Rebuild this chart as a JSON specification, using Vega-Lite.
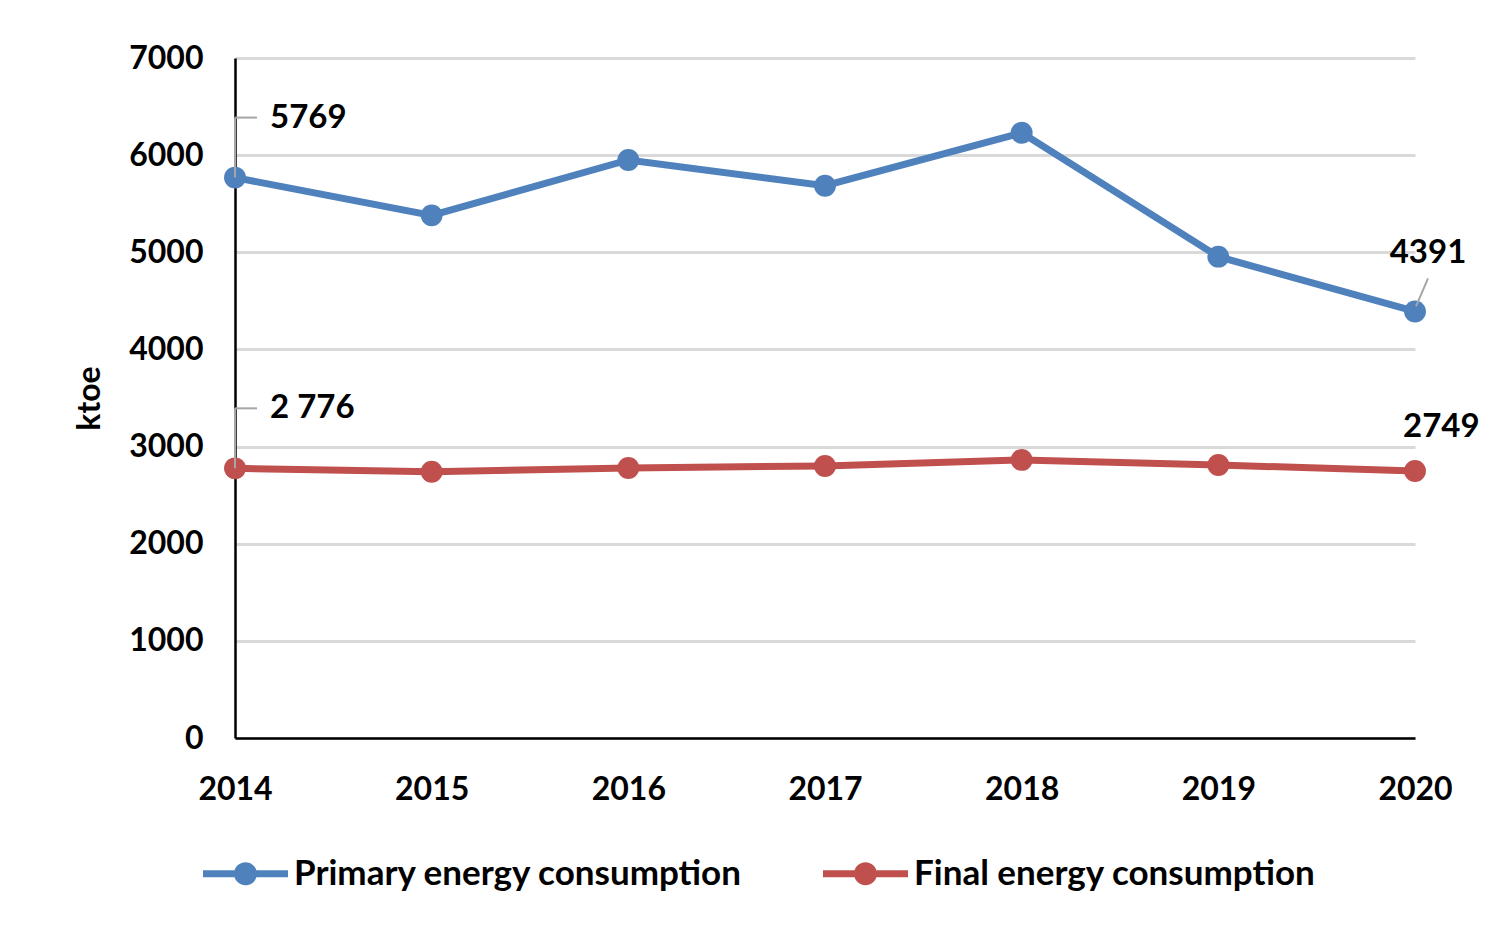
{
  "$schema": "https://vega.github.io/schema/vega-lite/v6.json",
  "autosize": "none",
  "width": 1180,
  "height": 680,
  "padding": {"left": 235, "top": 58, "right": 70, "bottom": 195},
  "background": "white",
  "config": {
    "font": "Lato",
    "view": {"stroke": null},
    "axis": {"labelFont": "Lato", "labelFontWeight": "bold", "labelFontSize": 32, "labelColor": "black", "titleFont": "Lato", "titleFontWeight": "bold", "titleFontSize": 32, "titleColor": "black"}
  },
  "data": {
    "values": [
      {"year": 2014, "series": "Primary energy consumption", "value": 5769, "label": "5769"},
      {"year": 2015, "series": "Primary energy consumption", "value": 5380},
      {"year": 2016, "series": "Primary energy consumption", "value": 5950},
      {"year": 2017, "series": "Primary energy consumption", "value": 5685},
      {"year": 2018, "series": "Primary energy consumption", "value": 6230},
      {"year": 2019, "series": "Primary energy consumption", "value": 4955},
      {"year": 2020, "series": "Primary energy consumption", "value": 4391, "label": "4391"},
      {"year": 2014, "series": "Final energy consumption", "value": 2776, "label": "2 776"},
      {"year": 2015, "series": "Final energy consumption", "value": 2740},
      {"year": 2016, "series": "Final energy consumption", "value": 2780},
      {"year": 2017, "series": "Final energy consumption", "value": 2800},
      {"year": 2018, "series": "Final energy consumption", "value": 2863},
      {"year": 2019, "series": "Final energy consumption", "value": 2810},
      {"year": 2020, "series": "Final energy consumption", "value": 2749, "label": "2749"}
    ]
  },
  "encoding": {
    "x": {"field": "year", "type": "quantitative", "scale": {"domain": [2014, 2020], "nice": false, "zero": false},
      "axis": {"values": [2014, 2015, 2016, 2017, 2018, 2019, 2020], "format": "d", "title": null, "grid": false, "ticks": false, "domainColor": "black", "domainWidth": 2.5, "labelPadding": 36, "labelFlush": false}},
    "y": {"field": "value", "type": "quantitative", "scale": {"domain": [0, 7000], "nice": false},
      "axis": {"values": [0, 1000, 2000, 3000, 4000, 5000, 6000, 7000], "format": "d", "title": "ktoe", "ticks": false, "domainColor": "black", "domainWidth": 2.5, "gridColor": "#d9d9d9", "gridWidth": 3, "labelPadding": 32, "titlePadding": 22}}
  },
  "layer": [
    {
      "mark": {"type": "line", "strokeWidth": 7, "point": {"filled": true, "size": 480}},
      "encoding": {
        "color": {"field": "series", "type": "nominal", "sort": ["Primary energy consumption", "Final energy consumption"],
          "scale": {"domain": ["Primary energy consumption", "Final energy consumption"], "range": ["#4f81bd", "#c0504d"]},
          "legend": {"orient": "none", "legendX": -32, "legendY": 773, "direction": "horizontal", "title": null,
            "labelFont": "Lato", "labelFontWeight": "bold", "labelFontSize": 35, "labelColor": "black", "labelLimit": 0,
            "symbolType": "M-1,-0.085 L-0.26,-0.085 L-0.26,0.085 L-1,0.085 Z M0.26,-0.085 L1,-0.085 L1,0.085 L0.26,0.085 Z M-0.27,0 A0.27,0.27 0 1,1 0.27,0 A0.27,0.27 0 1,1 -0.27,0 Z",
            "symbolSize": 7225, "symbolStrokeWidth": 0, "labelOffset": 6, "columnPadding": 80,
            "encode": {"symbols": {"update": {"fill": {"scale": "color", "field": "value"}, "fillOpacity": {"value": 1}, "strokeWidth": {"value": 0}}}}}
        }
      }
    },
    {
      "transform": [{"filter": "datum.year == 2014"}],
      "mark": {"type": "rule", "color": "#a6a6a6", "strokeWidth": 2, "y2Offset": -60},
      "encoding": {"x2": {"field": "year"}, "y2": {"field": "value"}}
    },
    {
      "transform": [{"filter": "datum.year == 2014"}],
      "mark": {"type": "rule", "color": "#a6a6a6", "strokeWidth": 2, "yOffset": -60, "y2Offset": -60, "x2Offset": 22},
      "encoding": {"x2": {"field": "year"}, "y2": {"field": "value"}}
    },
    {
      "transform": [{"filter": "datum.year == 2020 && datum.series == 'Primary energy consumption'"}],
      "mark": {"type": "rule", "color": "#a6a6a6", "strokeWidth": 2, "yOffset": -5, "xOffset": 1, "y2Offset": -33, "x2Offset": 13},
      "encoding": {"x2": {"field": "year"}, "y2": {"field": "value"}}
    },
    {
      "transform": [{"filter": "datum.year == 2014"}],
      "mark": {"type": "text", "align": "left", "baseline": "middle", "dx": 35, "dy": -60, "font": "Lato", "fontWeight": "bold", "fontSize": 33, "color": "black"},
      "encoding": {"text": {"field": "label"}}
    },
    {
      "transform": [{"filter": "datum.year == 2020 && datum.series == 'Primary energy consumption'"}],
      "mark": {"type": "text", "align": "center", "baseline": "middle", "dx": 13, "dy": -58, "font": "Lato", "fontWeight": "bold", "fontSize": 33, "color": "black"},
      "encoding": {"text": {"field": "label"}}
    },
    {
      "transform": [{"filter": "datum.year == 2020 && datum.series == 'Final energy consumption'"}],
      "mark": {"type": "text", "align": "left", "baseline": "middle", "dx": -12, "dy": -44, "font": "Lato", "fontWeight": "bold", "fontSize": 33, "color": "black"},
      "encoding": {"text": {"field": "label"}}
    }
  ]
}
